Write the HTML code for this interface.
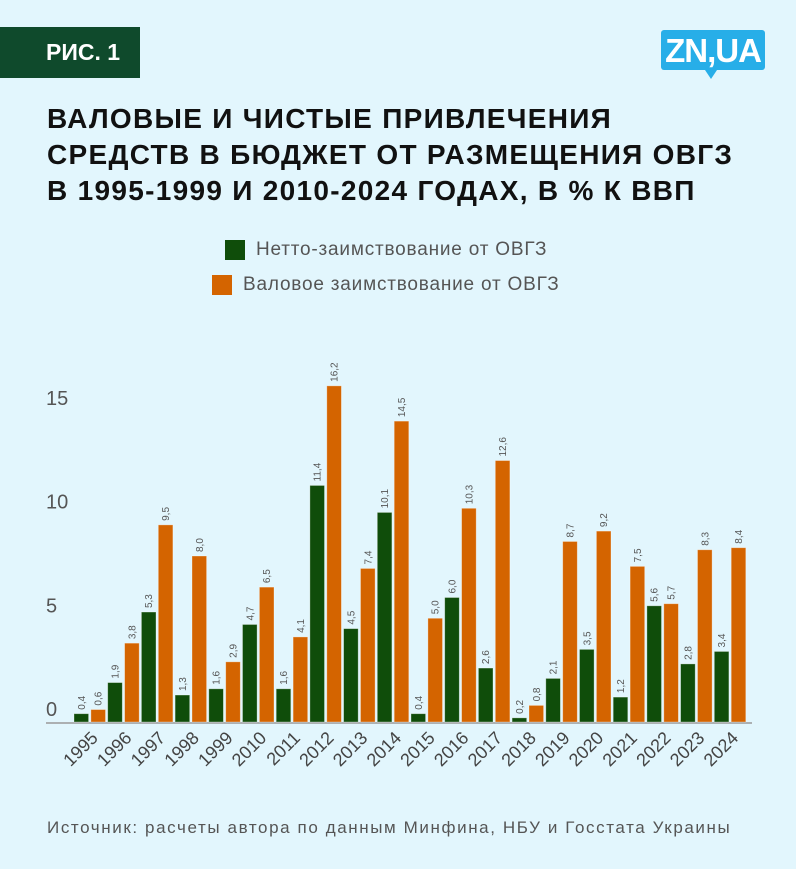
<!DOCTYPE html>
<html><head><meta charset="utf-8"><style>
body{margin:0;width:796px;height:869px;background:#e2f6fd;font-family:"Liberation Sans",sans-serif;position:relative;overflow:hidden}
#fig{position:absolute;left:0;top:27px;width:94px;height:51px;background:#0f4a2c;color:#fff;font-weight:bold;font-size:23px;line-height:51px;padding-left:46px}
#logo{position:absolute;left:661px;top:30px;width:104px;height:40px;background:#27aee8;border-radius:3px;color:#fff;font-weight:bold;font-size:33px;line-height:42px;text-align:center;letter-spacing:-1px}
#logo:after{content:"";position:absolute;left:44px;top:40px;border-left:6px solid transparent;border-right:6px solid transparent;border-top:9px solid #27aee8}
#title{position:absolute;left:47px;top:101px;font-weight:bold;font-size:28px;line-height:36px;color:#111;letter-spacing:1.3px;white-space:nowrap}
.leg{position:absolute;font-size:19px;color:#555;letter-spacing:0.8px;white-space:nowrap}
.sw{position:absolute;width:20px;height:20px}
#src{position:absolute;left:47px;top:818px;font-size:17px;color:#555;letter-spacing:1.6px;white-space:nowrap}
</style></head><body>
<div id="fig">РИС. 1</div>
<div id="logo">ZN,UA</div>
<div id="title">ВАЛОВЫЕ И ЧИСТЫЕ ПРИВЛЕЧЕНИЯ<br>СРЕДСТВ В БЮДЖЕТ ОТ РАЗМЕЩЕНИЯ ОВГЗ<br>В 1995-1999 И 2010-2024 ГОДАХ, В % К ВВП</div>
<div class="sw" style="left:225px;top:240px;background:#0f4d0a"></div>
<div class="leg" style="left:256px;top:239px">Нетто-заимствование от ОВГЗ</div>
<div class="sw" style="left:212px;top:275px;background:#d46400"></div>
<div class="leg" style="left:243px;top:274px">Валовое заимствование от ОВГЗ</div>
<svg id="chart" width="796" height="869" style="position:absolute;left:0;top:0"></svg>
<div id="src">Источник: расчеты автора по данным Минфина, НБУ и Госстата Украины</div>
<script>
const years=["1995","1996","1997","1998","1999","2010","2011","2012","2013","2014","2015","2016","2017","2018","2019","2020","2021","2022","2023","2024"];
const netValues=[0.4,1.9,5.3,1.3,1.6,4.7,1.6,11.4,4.5,10.1,0.4,6.0,2.6,0.2,2.1,3.5,1.2,5.6,2.8,3.4];
const grossValues=[0.6,3.8,9.5,8.0,2.9,6.5,4.1,16.2,7.4,14.5,5.0,10.3,12.6,0.8,8.7,9.2,7.5,5.7,8.3,8.4];
const yTicks=[0,5,10,15];
const svg=document.getElementById('chart');
const NS="http://www.w3.org/2000/svg";
const base=722,unit=20.75,x0=74,step=33.7,bw=14.6;
function y(v){return base-v*unit;}
function xg(i){return x0+i*step;}
function mk(t,a){const e=document.createElementNS(NS,t);for(const k in a)e.setAttribute(k,a[k]);svg.appendChild(e);return e;}
yTicks.forEach(t=>{
 const e=mk('text',{x:46,y:y(t)-6,'font-size':20,fill:'#555','font-family':'Liberation Sans, sans-serif'});
 e.textContent=t;
 
 
});
const ax=mk('line',{x1:46,x2:752,y1:base+1,y2:base+1,stroke:'#999','stroke-width':1.5});


function fmt(v){return v.toFixed(1).replace('.',',');}
years.forEach((yr,i)=>{
 [[netValues[i],'#0f4d0a','net'],[grossValues[i],'#d46400','gross']].forEach(([v,c,n],j)=>{
  const bx=xg(i)+j*(bw+2.3);
  const r=mk('rect',{x:bx,y:y(v),width:bw,height:v*unit,fill:c,stroke:'rgba(255,255,255,0.4)','stroke-width':0.8});
  
  
  const cx=bx+bw/2+3.5,cy=y(v)-4;
  const t=mk('text',{x:cx,y:cy,'font-size':10,fill:'#555','font-family':'Liberation Sans, sans-serif',transform:`rotate(-90 ${cx} ${cy})`});
  t.textContent=fmt(v);
  
  
 });
 const lx=xg(i)+25,ly=base+17;
 const t=mk('text',{x:lx,y:ly,'font-size':18,fill:'#444','text-anchor':'end','font-family':'Liberation Sans, sans-serif',transform:`rotate(-45 ${lx} ${ly})`});
 t.textContent=yr;
 
 
});
</script>
</body></html>
